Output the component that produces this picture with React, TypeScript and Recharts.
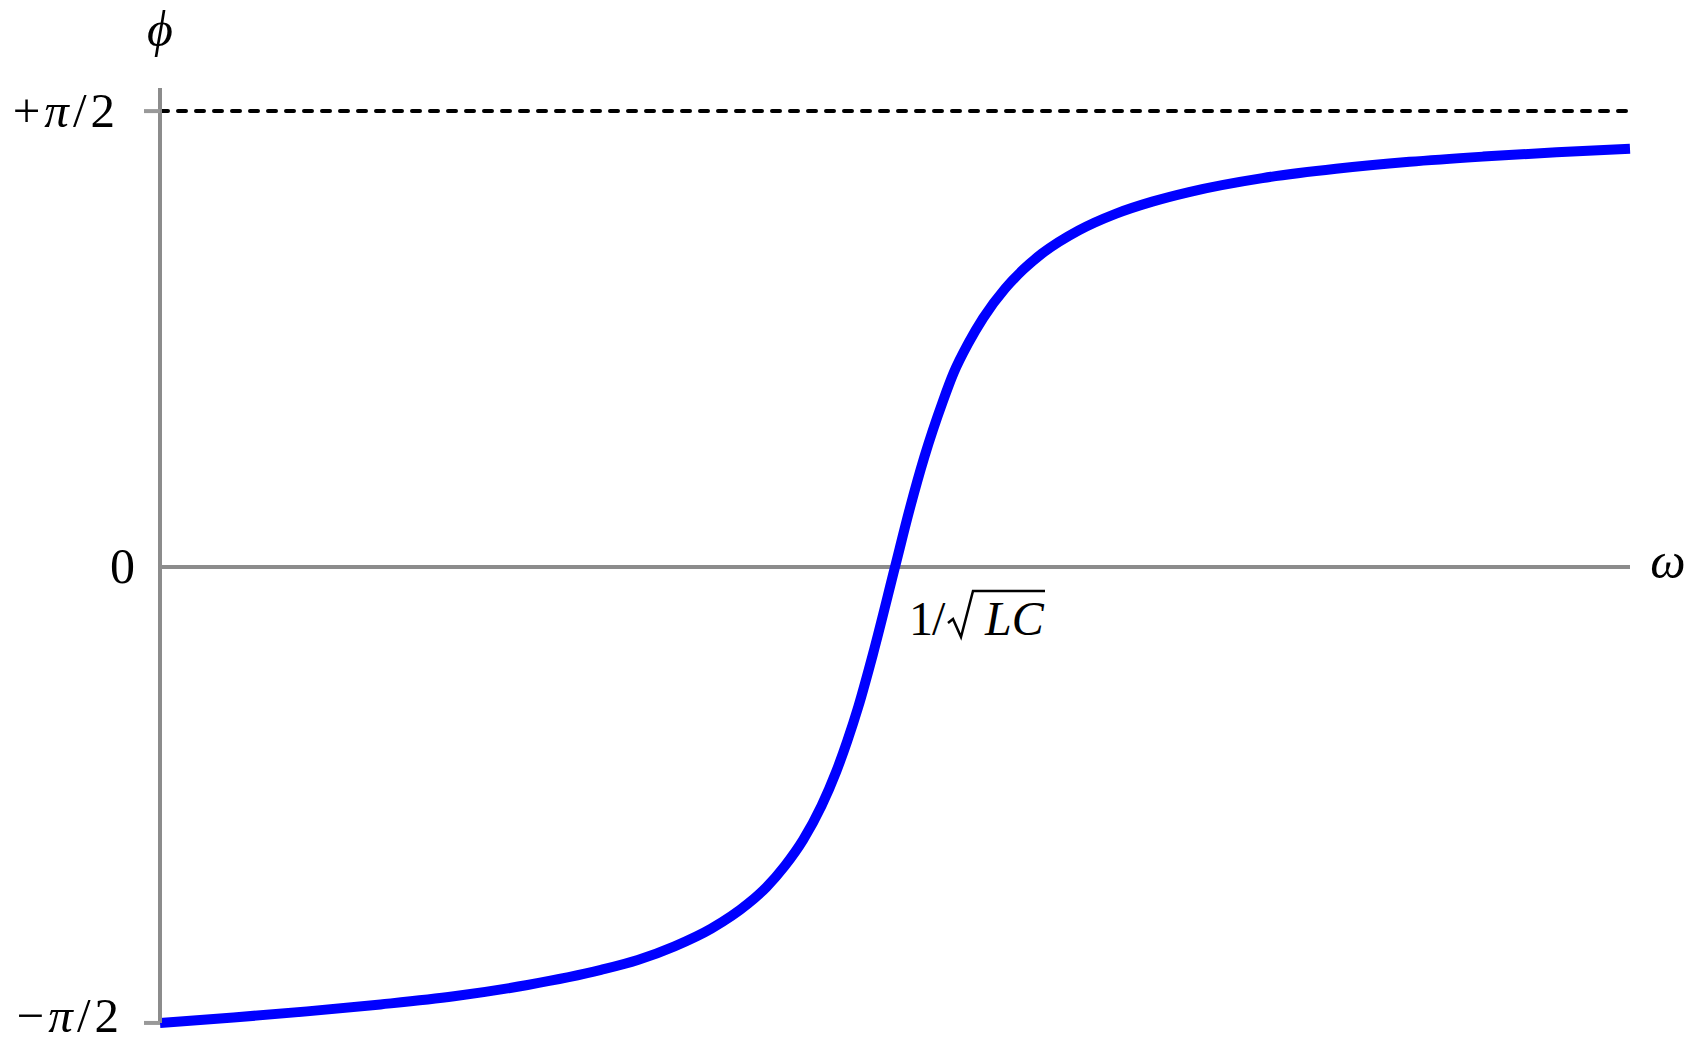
import { LineChart, Line, XAxis, YAxis, ReferenceLine, ReferenceDot } from 'recharts';

// angular frequency in units of 1/sqrt(LC)
const omega = [0, 0.1, 0.2, 0.3, 0.4, 0.5, 0.6, 0.65, 0.7, 0.75, 0.8, 0.825, 0.85, 0.875, 0.9, 0.92, 0.935, 0.95, 0.97, 1.0, 1.02, 1.04, 1.065, 1.08, 1.1, 1.12, 1.15, 1.175, 1.2, 1.25, 1.3, 1.35, 1.4, 1.5, 1.6, 1.7, 1.8, 1.9, 2.0];
// phase in radians
const phase = [-1.571, -1.552, -1.531, -1.507, -1.479, -1.44, -1.388, -1.354, -1.307, -1.246, -1.16, -1.103, -1.03, -0.94, -0.823, -0.705, -0.6, -0.482, -0.3, 0, 0.2, 0.38, 0.57, 0.67, 0.772, 0.858, 0.96, 1.026, 1.08, 1.16, 1.217, 1.259, 1.292, 1.34, 1.372, 1.396, 1.414, 1.429, 1.441];

const yTicks = [-Math.PI / 2, 0, Math.PI / 2];
const yTickSigns = ['\u2212', '', '+'];

const data = omega.map((w, i) => ({ w, phi: phase[i] }));

const FONT = '"Liberation Serif", "DejaVu Serif", serif';
const AXIS = '#8c8c8c';

const PhaseTick = (props: any) => {
  const { x, y, payload } = props;
  const i = yTicks.findIndex((t) => Math.abs(t - payload.value) < 1e-6);
  if (i === 1) {
    return (
      <text x={x - 25} y={y + 16} textAnchor="end" fontFamily={FONT} fontSize={50} fill="#000">0</text>
    );
  }
  const top = i === 2;
  return (
    <g>
      <line x1={x - 16} x2={x} y1={y} y2={y} stroke="#999" strokeWidth={4} />
      <text x={top ? x - 41 : x - 37} y={top ? y + 16 : y + 9} textAnchor="end" fontFamily={FONT} fontSize={49} fill="#000" letterSpacing={4}>
        {yTickSigns[i]}
        <tspan fontStyle="italic">π</tspan>
        /2
      </text>
    </g>
  );
};

const OmegaLabel = (props: any) => {
  const { x, y, width } = props.viewBox;
  return (
    <text x={x + width + 38} y={y + 11} textAnchor="middle" fontFamily={FONT} fontStyle="italic" fontSize={50} fill="#000">ω</text>
  );
};

const RootLabel = (props: any) => {
  const vb = props.viewBox;
  const cx = vb.x + vb.width / 2;
  const cy = vb.y + vb.height / 2;
  const base = cy + 68;
  return (
    <g fontFamily={FONT} fontSize={48} fill="#000">
      <text x={cx + 14} y={base}>1</text>
      <text x={cx + 37} y={base}>/</text>
      <path d={`M${cx + 53},${cy + 56} L${cx + 58},${cy + 52} L${cx + 66},${cy + 70} L${cx + 78},${cy + 24} L${cx + 150},${cy + 24}`} fill="none" stroke="#000" strokeWidth={2.5} />
      <text x={cx + 90} y={base} fontStyle="italic">LC</text>
    </g>
  );
};

export default function App() {
  return (
    <div style={{ position: 'absolute', left: 0, top: 0, width: 1693, height: 1041, background: '#fff' }}>
      <LineChart width={1693} height={1041} data={data} margin={{ top: 88, right: 63, bottom: 18, left: 0 }}>
        <XAxis type="number" dataKey="w" domain={[0, 2]} hide />
        <YAxis
          type="number"
          domain={[-Math.PI / 2, 1.6504]}
          ticks={yTicks}
          width={160}
          tickSize={0}
          tickMargin={0}
          tickLine={false}
          axisLine={{ stroke: AXIS, strokeWidth: 4 }}
          tick={<PhaseTick />}
          interval={0}
        />
        <ReferenceLine y={Math.PI / 2} stroke="#000" strokeWidth={4} strokeDasharray="8 10" strokeLinecap="round" />
        <ReferenceLine y={0} stroke={AXIS} strokeWidth={4} label={<OmegaLabel />} />
        <ReferenceDot x={1} y={0} r={1} fill="none" stroke="none" label={<RootLabel />} />
        <Line type="monotone" dataKey="phi" stroke="#0000ff" strokeWidth={10} dot={false} activeDot={false} isAnimationActive={false} />
      </LineChart>
      <svg style={{ position: 'absolute', left: 0, top: 0 }} width={320} height={70}>
        <text x={160} y={46} textAnchor="middle" fontFamily={FONT} fontStyle="italic" fontSize={50} fill="#000">ϕ</text>
      </svg>
    </div>
  );
}
